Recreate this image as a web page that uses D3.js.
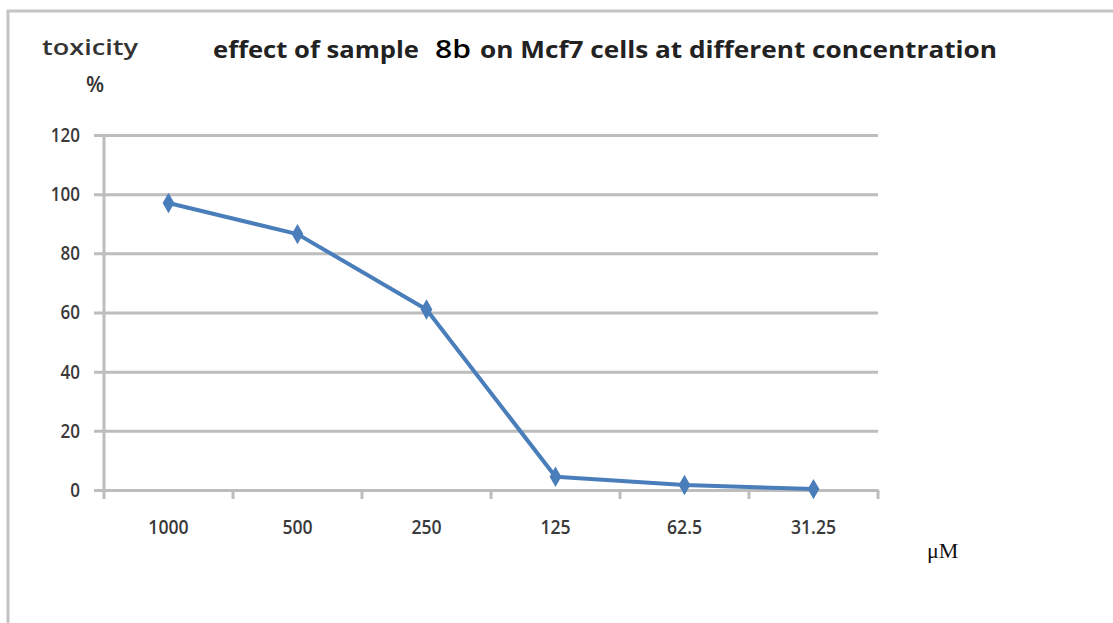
<!DOCTYPE html>
<html>
<head>
<meta charset="utf-8">
<script src="https://cdn.jsdelivr.net/npm/d3@7"></script>
<style>
  body { margin: 0; background: white; }
  text { font-family: "Open Sans", "DejaVu Sans", sans-serif; }
</style>
</head>
<body>
<div id="container"></div>
<script>
let w = 1113;
let h = 623;

// data
let concentrations = ["1000", "500", "250", "125", "62.5", "31.25"];
let toxicity = [97, 86.5, 61, 4.5, 1.7, 0.3];
let yTicks = [0, 20, 40, 60, 80, 100, 120];

let margin = {left: 104, right: 235, top: 135, bottom: 133};

let viz = d3.select("#container").append("svg")
    .attr("width", w)
    .attr("height", h)
    .style("background-color", "white");

// outer frame (only top and left edges are visible)
viz.append("path")
  .attr("d", "M8," + h + " L8,11 L" + w + ",11")
  .attr("fill", "none")
  .attr("stroke", "#c4c4c4")
  .attr("stroke-width", 3);

let xScale = d3.scaleBand().domain(concentrations).range([margin.left, w - margin.right]);
let yScale = d3.scaleLinear().domain([0, 120]).range([h - margin.bottom, margin.top]);

// gridlines + y axis
let yAxis = d3.axisLeft(yScale).tickValues(yTicks).tickSize(10).tickPadding(14);
let yAxisGroup = viz.append("g")
    .attr("class", "yaxisgroup")
    .attr("transform", "translate(" + margin.left + ",0)")
    .call(yAxis);
yAxisGroup.select(".domain").attr("stroke", "#bdbdbd").attr("stroke-width", 3).attr("d", "M0," + yScale(120) + "V" + yScale(0));
yAxisGroup.selectAll(".tick line").attr("stroke", "#bdbdbd").attr("stroke-width", 3)
    .attr("x1", -10).attr("x2", w - margin.right - margin.left);
yAxisGroup.selectAll("text")
    .attr("fill", "#3a3a3a")
    .attr("transform", "scale(0.85,1)")
    .attr("x", -24 / 0.85)
    .style("font-size", "20px")
    .style("font-weight", "600");

// x axis
let xAxis = d3.axisBottom(xScale).tickSize(0).tickPadding(30);
let xAxisGroup = viz.append("g")
    .attr("class", "xaxisgroup")
    .attr("transform", "translate(0," + yScale(0) + ")")
    .call(xAxis);
xAxisGroup.select(".domain").attr("stroke", "#bdbdbd").attr("stroke-width", 3);
xAxisGroup.selectAll("text")
    .attr("fill", "#3a3a3a")
    .style("font-size", "20px")
    .style("font-weight", "600")
    .attr("textLength", function() { return this.getComputedTextLength() * 0.88; })
    .attr("lengthAdjust", "spacingAndGlyphs");
// tick marks between categories
let edges = concentrations.map(d => xScale(d)).concat([xScale.range()[1]]);
xAxisGroup.selectAll(".edge").data(edges).enter()
  .append("line")
    .attr("class", "edge")
    .attr("x1", d => d).attr("x2", d => d)
    .attr("y1", 0).attr("y2", 9)
    .attr("stroke", "#bdbdbd")
    .attr("stroke-width", 3);

// the line
let lineColor = "#4a7ebb";
let points = concentrations.map((c, i) => ({c: c, v: toxicity[i]}));
let line = d3.line()
    .x(d => xScale(d.c) + xScale.bandwidth() / 2)
    .y(d => yScale(d.v));

viz.append("path")
  .datum(points)
  .attr("d", line)
  .attr("fill", "none")
  .attr("stroke", lineColor)
  .attr("stroke-width", 4)
  .attr("stroke-linejoin", "round");

viz.selectAll(".marker").data(points).enter()
  .append("path")
    .attr("class", "marker")
    .attr("d", d3.symbol().type(d3.symbolDiamond).size(120))
    .attr("transform", d => "translate(" + (xScale(d.c) + xScale.bandwidth() / 2) + "," + yScale(d.v) + ")")
    .attr("fill", lineColor);

// y axis label
viz.append("text")
  .text("toxicity")
  .attr("x", 42).attr("y", 55)
  .attr("textLength", 96)
  .attr("lengthAdjust", "spacingAndGlyphs")
  .attr("fill", "#333")
  .style("font-size", "21px")
  .style("font-weight", "600");
viz.append("text")
  .text("%")
  .attr("x", 95).attr("y", 92)
  .attr("text-anchor", "middle")
  .attr("fill", "#333")
  .style("font-size", "21px")
  .style("font-weight", "600");

// title
let titleY = 58;
viz.append("text")
  .text("effect of sample")
  .attr("x", 213).attr("y", titleY)
  .attr("textLength", 206)
  .attr("lengthAdjust", "spacingAndGlyphs")
  .attr("fill", "#222")
  .style("font-size", "23px")
  .style("font-weight", "700");
viz.append("text")
  .text("8b")
  .attr("x", 435).attr("y", titleY)
  .attr("textLength", 36)
  .attr("lengthAdjust", "spacingAndGlyphs")
  .attr("fill", "#000")
  .style("font-size", "26px")
  .style("font-weight", "600");
viz.append("text")
  .text("on Mcf7 cells at different concentration")
  .attr("x", 480).attr("y", titleY)
  .attr("textLength", 517)
  .attr("lengthAdjust", "spacingAndGlyphs")
  .attr("fill", "#222")
  .style("font-size", "23px")
  .style("font-weight", "700");

// unit
viz.append("text")
  .text("μM")
  .attr("x", 927).attr("y", 558)
  .attr("fill", "#111")
  .style("font-family", "'Liberation Serif', 'DejaVu Serif', serif")
  .style("font-size", "22px");
</script>
</body>
</html>
